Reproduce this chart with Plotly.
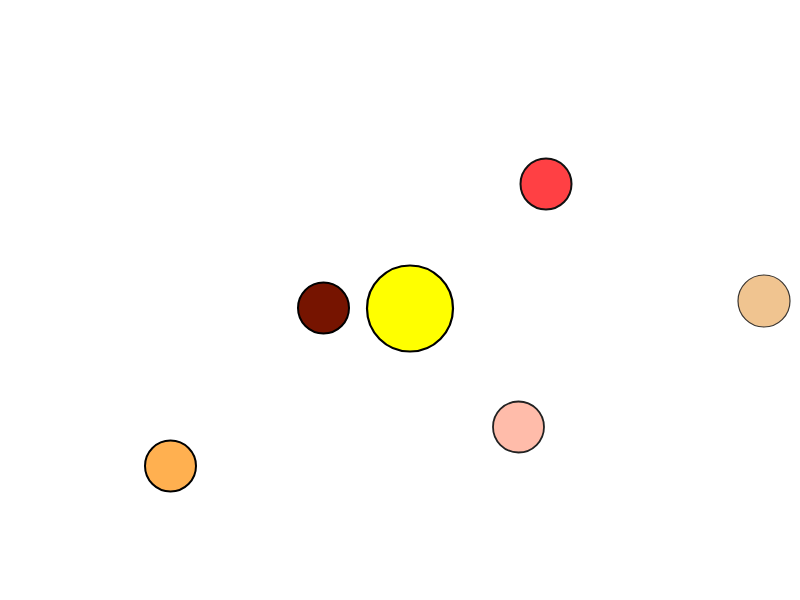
import plotly.graph_objects as go

names = ["Sun", "Body A", "Body B", "Body C", "Body D", "Body E"]
x_pos = [402, 315.5, 538, 756, 510.5, 162.5]
y_pos = [300.5, 300, 176, 293, 419, 458]
diam = [86, 51, 51, 52, 51, 51]
colors = ["#FFFF00", "#761400", "#FF4044", "#F0C490", "#FFBCAA", "#FFB050"]
line_w = [2.2, 2, 2, 1.2, 1.8, 2]
line_c = ["#000000", "#000000", "#111111", "#3a3530", "#222222", "#000000"]

fig = go.Figure()
fig.add_trace(go.Scatter(
    x=x_pos, y=y_pos, mode="markers", text=names,
    marker=dict(size=diam, color=colors,
                line=dict(width=line_w, color=line_c), opacity=1),
    hoverinfo="text", showlegend=False, cliponaxis=False,
))
fig.update_layout(
    width=800, height=600,
    margin=dict(l=0, r=0, t=0, b=0),
    paper_bgcolor="white", plot_bgcolor="white",
    xaxis=dict(range=[0, 800], visible=False, fixedrange=True),
    yaxis=dict(range=[600, 0], visible=False, fixedrange=True),
)
fig.write_html("out.html")
